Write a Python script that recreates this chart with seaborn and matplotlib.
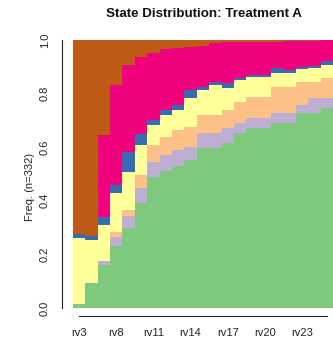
import numpy as np
import pandas as pd
import matplotlib
matplotlib.use("Agg")
import matplotlib.pyplot as plt
import seaborn as sns

# ---- data ----
col_names = ["rv3", "rv5", "rv7", "rv8", "rv9", "rv10", "rv11", "rv12", "rv13", "rv14",
             "rv15", "rv16", "rv17", "rv18", "rv19", "rv20", "rv21", "rv22", "rv23",
             "rv24", "rv25"]
shown_labels = ["rv3", "rv8", "rv11", "rv14", "rv17", "rv20", "rv23"]

# states, bottom to top
states = ["S1", "S2", "S3", "S4", "S5", "S6", "S7"]
state_colors = ["#7FC97F", "#BEAED4", "#FDC086", "#FFFF99", "#386CB0", "#F0027F", "#BF5B17"]

s1 = [.015, .094, .160, .231, .297, .391, .490, .510, .530, .552, .596, .596, .614, .652,
      .670, .670, .689, .689, .726, .726, .745]
s2 = [0, 0, .017, .035, .046, .057, .056, .061, .060, .050, .056, .056, .056, .037,
      .038, .038, .037, .037, .031, .056, .037]
s3 = [0, 0, 0, .019, .023, .048, .062, .068, .074, .075, .068, .068, .069, .081,
      .081, .081, .100, .100, .087, .062, .075]
s4 = [.247, .160, .133, .143, .140, .112, .075, .081, .075, .105, .095, .112, .081, .081,
      .074, .074, .052, .050, .046, .050, .050]
s5 = [.013, .016, .031, .031, .077, .043, .018, .019, .018, .031, .008, .012, .018, .006,
      .006, .006, .016, .012, .010, .009, .015]
s6 = [0, 0, .305, .373, .324, .286, .250, .226, .213, .162, .155, .146, .154, .136,
      .124, .125, .100, .107, .097, .095, .077]
s7 = [.725, .730, .354, .168, .093, .063, .049, .035, .030, .025, .022, .010, .008, .007,
      .007, .006, .006, .005, .003, .002, .001]
shares = [s1, s2, s3, s4, s5, s6, s7]

rows = []
for st, vals in zip(states, shares):
    for i, v in enumerate(vals):
        rows.append({"pos": i + 1, "state": st, "share": v})
df = pd.DataFrame(rows)

# ---- figure ----
sns.set_style("white")
plt.rcParams["font.family"] = ["Liberation Sans", "DejaVu Sans"]

W, H = 333, 344
fig = plt.figure(figsize=(W / 100, H / 100), dpi=100)
ax = fig.add_axes([62 / W, 24 / H, 284 / W, 290 / H])

pal = dict(zip(states, state_colors))
sns.histplot(data=df, x="pos", hue="state", weights="share", multiple="stack",
             discrete=True, shrink=1, hue_order=states[::-1], palette=pal,
             alpha=1, linewidth=0, legend=False, ax=ax)
for p in ax.patches:
    p.set_antialiased(False)
    p.set_linewidth(0)

ax.set_xlim(-0.371, 22.53)
ax.set_ylim(-0.0448, 1.0373)

for s in ["top", "right"]:
    ax.spines[s].set_visible(False)
ax.spines["left"].set_bounds(0, 1)
ax.spines["bottom"].set_position(("data", -0.03))
ax.spines["bottom"].set_bounds(1, 21)
for s in ["left", "bottom"]:
    ax.spines[s].set_color("#222222")
    ax.spines[s].set_linewidth(0.8)

ticks = list(range(1, len(col_names) + 1))
ax.set_xticks(ticks)
ax.set_xticklabels([n if n in shown_labels else "" for n in col_names])
yt = [0, 0.2, 0.4, 0.6, 0.8, 1.0]
ax.set_yticks(yt)
ax.set_yticklabels([f"{v:.1f}" for v in yt], rotation=90, va="center")
ax.tick_params(axis="both", direction="out", length=3.6, width=0.8, color="#222222",
               labelsize=8, labelcolor="#222222", pad=5)
ax.set_xlabel("")
ax.set_ylabel("")

fig.text(204 / W, 1 - 14 / H, "State Distribution: Treatment A", ha="center", va="center",
         fontsize=9.6, fontweight="bold", color="#111111")
fig.text(30 / W, 1 - 187 / H, "Freq. (n=332)", ha="center", va="center", rotation=90,
         fontsize=8, color="#222222")

fig.savefig("out.png", dpi=100, facecolor="white")
